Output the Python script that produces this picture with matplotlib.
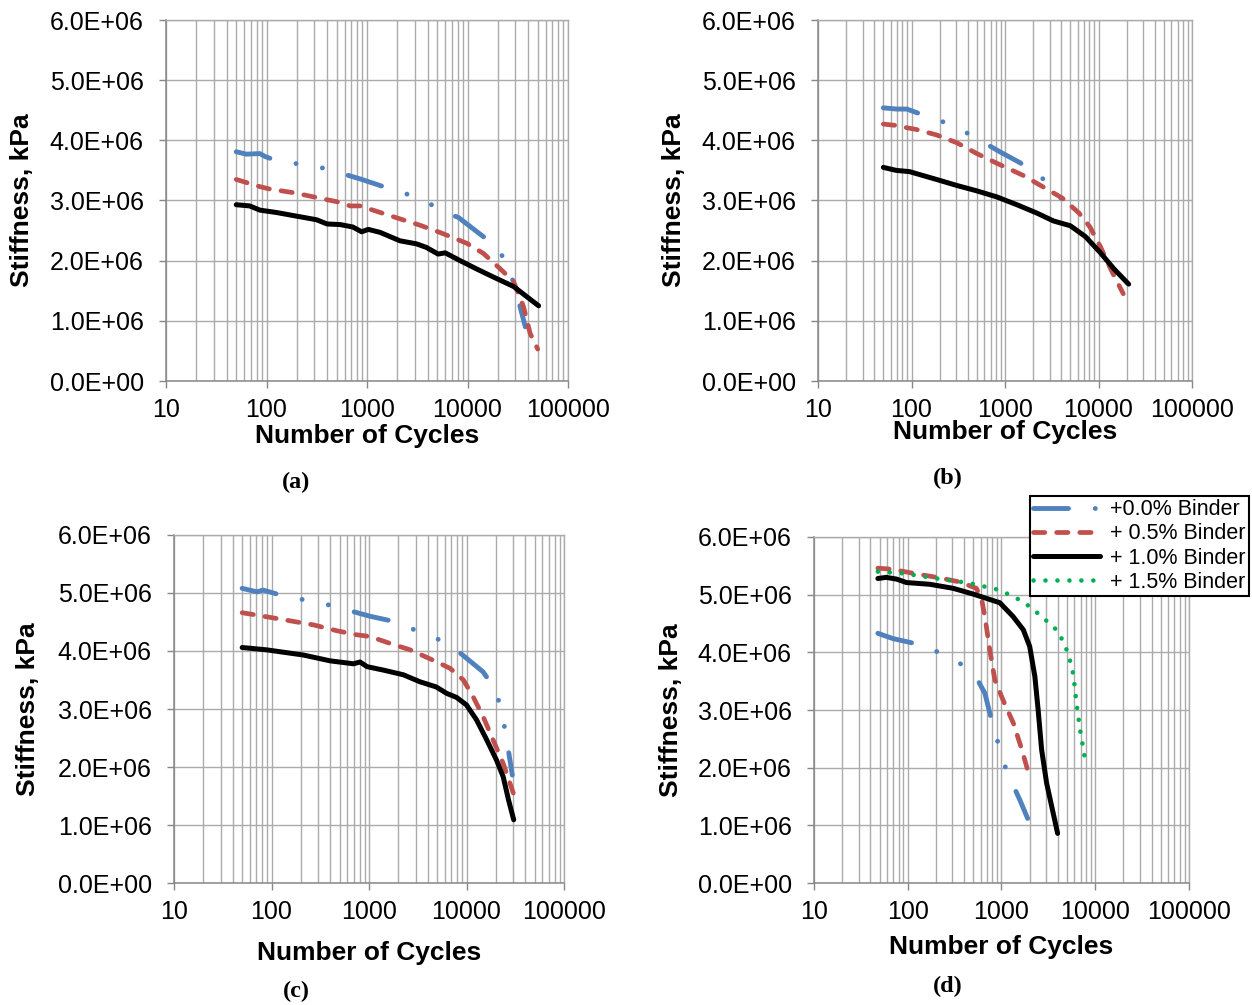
import numpy as np
import matplotlib
matplotlib.use('Agg')
import matplotlib.pyplot as plt
from matplotlib.ticker import FuncFormatter, NullFormatter, LogLocator

plt.rcParams['font.family'] = ['Liberation Sans', 'DejaVu Sans']

# stiffness values in 1E+06 kPa
# (a)
a_n0 = [50, 63, 86, 97, 122, 203, 345, 560, 850, 1400, 2280, 3750, 5700, 8100, 12900, 19500, 25500, 30800, 37600]
a_s0 = [3.81, 3.77, 3.78, 3.73, 3.67, 3.61, 3.55, 3.45, 3.36, 3.24, 3.13, 3.00, 2.81, 2.72, 2.46, 2.23, 1.91, 1.46, 0.90]
a_n5 = [50, 86, 108, 185, 315, 500, 680, 850, 1830, 3350, 5300, 9800, 14400, 21000, 28800, 36000, 42000, 50000]
a_s5 = [3.35, 3.23, 3.19, 3.13, 3.05, 2.98, 2.91, 2.91, 2.73, 2.59, 2.47, 2.29, 2.12, 1.87, 1.65, 1.24, 0.79, 0.53]
a_n10 = [50, 68, 86, 126, 215, 315, 400, 540, 720, 885, 1030, 1350, 2130, 3100, 3900, 5100, 6000, 8450, 12400, 18000, 28800, 39000, 51000]
a_s10 = [2.93, 2.91, 2.84, 2.80, 2.73, 2.68, 2.61, 2.60, 2.56, 2.48, 2.52, 2.47, 2.33, 2.28, 2.22, 2.11, 2.13, 2.00, 1.86, 1.73, 1.57, 1.40, 1.25]

# (b)
b_n0 = [50, 69, 89, 134, 225, 365, 600, 880, 1440, 2300, 3500, 4900]
b_s0 = [4.54, 4.52, 4.52, 4.42, 4.30, 4.15, 3.96, 3.81, 3.63, 3.42, 3.17, 2.81]
b_n5 = [50, 66, 89, 113, 185, 305, 500, 815, 1550, 2530, 4100, 6200, 8100, 10500, 13700, 18400]
b_s5 = [4.27, 4.25, 4.21, 4.18, 4.09, 3.96, 3.78, 3.62, 3.42, 3.23, 3.04, 2.79, 2.56, 2.23, 1.84, 1.45]
b_n10 = [50, 69, 95, 185, 305, 500, 815, 1340, 2200, 3300, 5000, 7250, 10500, 14500, 21000]
b_s10 = [3.55, 3.50, 3.48, 3.35, 3.25, 3.16, 3.06, 2.93, 2.79, 2.66, 2.58, 2.40, 2.13, 1.87, 1.61]

# (c)
c_n0 = [50, 71, 82, 133, 220, 375, 650, 1020, 1580, 2580, 4350, 7000, 14800, 20000, 23000, 25300, 29500]
c_s0 = [5.08, 5.02, 5.05, 4.95, 4.88, 4.80, 4.69, 4.60, 4.53, 4.40, 4.26, 4.09, 3.64, 3.32, 2.94, 2.57, 1.86]
c_n5 = [50, 89, 144, 270, 465, 745, 1020, 1650, 2640, 4560, 6800, 9300, 11700, 14800, 18700, 23800, 30200]
c_s5 = [4.66, 4.59, 4.53, 4.45, 4.35, 4.28, 4.25, 4.13, 4.02, 3.84, 3.70, 3.50, 3.21, 2.87, 2.47, 2.06, 1.55]
c_n10 = [50, 89, 213, 400, 690, 810, 955, 1410, 2250, 3320, 4900, 6250, 7900, 10000, 12700, 16100, 20300, 23800, 27000, 30500]
c_s10 = [4.06, 4.02, 3.93, 3.83, 3.78, 3.81, 3.73, 3.67, 3.59, 3.47, 3.38, 3.27, 3.20, 3.07, 2.81, 2.47, 2.12, 1.83, 1.43, 1.09]

# (d)
d_n0 = [48, 69, 129, 215, 360, 540, 665, 760, 885, 1020, 1250, 1570, 1900]
d_s0 = [4.33, 4.24, 4.14, 4.00, 3.81, 3.56, 3.29, 2.91, 2.53, 2.14, 1.79, 1.44, 1.12]
d_n5 = [48, 69, 114, 204, 360, 540, 615, 665, 750, 850, 1040, 1340, 1650, 1900]
d_s5 = [5.46, 5.44, 5.37, 5.30, 5.22, 5.11, 4.91, 4.62, 4.04, 3.52, 3.17, 2.77, 2.31, 1.96]
d_n10 = [48, 59, 76, 97, 172, 305, 500, 960, 1330, 1710, 2000, 2270, 2460, 2680, 3030, 3560, 3970]
d_s10 = [5.28, 5.30, 5.27, 5.21, 5.18, 5.11, 5.01, 4.86, 4.62, 4.39, 4.10, 3.58, 3.00, 2.31, 1.73, 1.21, 0.86]
d_n15 = [48, 89, 204, 455, 960, 1700, 2560, 4050, 5150, 5850, 6300, 6900, 7600, 7950]
d_s15 = [5.40, 5.37, 5.28, 5.20, 5.08, 4.88, 4.65, 4.36, 3.98, 3.61, 3.12, 2.65, 2.25, 2.03]

labels = ['+0.0% Binder', '+ 0.5% Binder', '+ 1.0% Binder', '+ 1.5% Binder']

styles = [
    dict(color='#4F81BD', lw=3.5, dashes=(7.2, 5.5, 0.01, 5.5, 0.01, 5.5), dash_capstyle='round'),
    dict(color='#C0504D', lw=3.4, dashes=(2.4, 2.5), dash_capstyle='round'),
    dict(color='black', lw=3.6, solid_capstyle='round', solid_joinstyle='round'),
    dict(color='#00B050', lw=3.3, dashes=(0.01, 2.6), dash_capstyle='round'),
]

grid_c = '#ababab'
spine_c = '#878787'

fig = plt.figure(figsize=(12.52, 10.05), dpi=100)
W, H = 1252, 1005


def make_axes(left, right, top, bottom):
    return fig.add_axes([left / W, 1 - bottom / H, (right - left) / W, (bottom - top) / H])


def setup(ax, ylab_x, xlab_y):
    ax.set_xscale('log')
    ax.set_xlim(10, 100000)
    ax.set_ylim(0, 6e6)
    ax.xaxis.set_major_locator(LogLocator(base=10, numticks=12))
    ax.xaxis.set_minor_locator(LogLocator(base=10, subs=np.arange(2, 10), numticks=12))
    ax.set_yticks(np.arange(0, 6.5e6, 1e6))
    ax.yaxis.set_major_formatter(FuncFormatter(lambda v, p: '{:.1E}'.format(v)))
    ax.xaxis.set_major_formatter(FuncFormatter(lambda v, p: '%d' % int(round(v))))
    ax.xaxis.set_minor_formatter(NullFormatter())
    ax.set_axisbelow(True)
    ax.grid(True, which='both', axis='x', color=grid_c, lw=1.0)
    ax.grid(True, which='major', axis='y', color=grid_c, lw=1.0)
    ax.tick_params(which='major', length=5, width=1, color=spine_c, labelsize=18)
    ax.tick_params(which='minor', length=0)
    ax.tick_params(axis='x', pad=7)
    ax.tick_params(axis='y', pad=11)
    for side in ['left', 'bottom']:
        ax.spines[side].set_color(spine_c)
        ax.spines[side].set_linewidth(1.1)
    for side in ['top', 'right']:
        ax.spines[side].set_color(grid_c)
        ax.spines[side].set_linewidth(1.0)
    ax.set_xlabel('Number of Cycles', fontsize=19, fontweight='bold', va='center')
    ax.set_ylabel('Stiffness, kPa', fontsize=19, fontweight='bold', va='center')
    ax.xaxis.set_label_coords(0.5, xlab_y)
    ax.yaxis.set_label_coords(ylab_x, 0.5)


def draw(ax, series):
    handles = []
    for (n, s), st in zip(series, styles):
        ln, = ax.plot(n, np.array(s) * 1e6, **st)
        handles.append(ln)
    return handles


ax_a = make_axes(166, 568, 20, 381)
setup(ax_a, -0.357, (381 - 436) / 361)
draw(ax_a, [(a_n0, a_s0), (a_n5, a_s5), (a_n10, a_s10)])

ax_b = make_axes(818, 1192, 20, 381)
setup(ax_b, -0.385, (381 - 432) / 361)
draw(ax_b, [(b_n0, b_s0), (b_n5, b_s5), (b_n10, b_s10)])

ax_c = make_axes(174, 564, 535, 883)
setup(ax_c, -0.375, (883 - 953) / 348)
draw(ax_c, [(c_n0, c_s0), (c_n5, c_s5), (c_n10, c_s10)])

ax_d = make_axes(814, 1189, 537, 883)
setup(ax_d, -0.381, (883 - 947) / 346)
hs = draw(ax_d, [(d_n0, d_s0), (d_n5, d_s5), (d_n10, d_s10), (d_n15, d_s15)])

leg = fig.legend(hs, labels, loc='upper right', bbox_to_anchor=(1249 / W, 1 - 496 / H),
                 bbox_transform=fig.transFigure, fontsize=15.5, frameon=True, fancybox=False,
                 edgecolor='black', framealpha=1, handlelength=3.1, handletextpad=0.5,
                 labelspacing=0.15, borderpad=0.15, borderaxespad=0)
leg.get_frame().set_linewidth(1.5)

cap_font = dict(family='Liberation Serif', fontweight='bold', fontsize=17.5, ha='center', va='center')
fig.text(296 / W, 1 - 482 / H, '(a)', **cap_font)
fig.text(948 / W, 1 - 478 / H, '(b)', **cap_font)
fig.text(296 / W, 1 - 991 / H, '(c)', **cap_font)
fig.text(948 / W, 1 - 986 / H, '(d)', **cap_font)

fig.savefig('out.png', dpi=100)
